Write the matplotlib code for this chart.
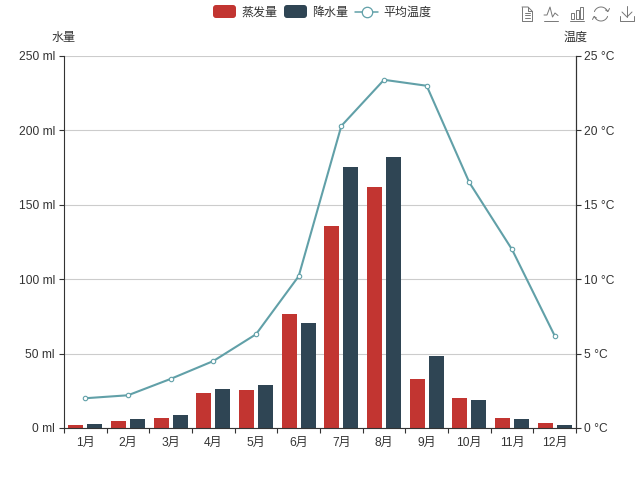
import matplotlib
matplotlib.use("Agg")
import matplotlib.pyplot as plt
import numpy as np
from matplotlib.lines import Line2D
from matplotlib.patches import FancyBboxPatch, Rectangle
from matplotlib.transforms import Affine2D

plt.rcParams['font.family'] = ['Liberation Sans', 'Noto Sans CJK SC', 'DejaVu Sans']

months = ['1月','2月','3月','4月','5月','6月','7月','8月','9月','10月','11月','12月']
evaporation = [2.0, 4.9, 7.0, 23.2, 25.6, 76.7, 135.6, 162.2, 32.6, 20.0, 6.4, 3.3]
precipitation = [2.6, 5.9, 9.0, 26.4, 28.7, 70.7, 175.6, 182.2, 48.7, 18.8, 6.0, 2.3]
temperature = [2.0, 2.2, 3.3, 4.5, 6.3, 10.2, 20.3, 23.4, 23.0, 16.5, 12.0, 6.2]
series_names = ['蒸发量', '降水量', '平均温度']
left_ticks = [0, 50, 100, 150, 200, 250]
right_ticks = [0, 5, 10, 15, 20, 25]

RED, NAVY, TEAL = '#c23531', '#2f4554', '#61a0a8'
TXT, AX = '#333333', '#333333'
W, H = 640, 484
FS = 8.64

fig = plt.figure(figsize=(W/100, H/100), dpi=100, facecolor='white')
ax = fig.add_axes([64/W, 1-428/H, 512/W, 372/H])
x = np.arange(len(months))
bw = 0.35
off = 0.225
ax.bar(x-off, evaporation, bw, color=RED, zorder=2)
ax.bar(x+off, precipitation, bw, color=NAVY, zorder=2)
ax.set_xlim(-0.5, 11.5)
ax.set_ylim(0, 250)
ax.set_yticks(left_ticks)
ax.set_yticklabels([f'{v} ml' for v in left_ticks], fontsize=FS, color=TXT)
ax.set_xticks(np.arange(-0.5, 12, 1))
ax.set_xticklabels([])
ax.set_xticks(x, minor=True)
ax.set_xticklabels(months, minor=True, fontsize=FS, color=TXT)
ax.tick_params(axis='x', which='major', length=3.6, width=0.8, color=AX, direction='out')
ax.tick_params(axis='x', which='minor', length=0, pad=6.5)
ax.tick_params(axis='y', length=3.6, width=0.8, color=AX, pad=3)
ax.grid(axis='y', color='#cccccc', lw=0.8, zorder=0)
ax.set_axisbelow(True)
ax.spines['top'].set_visible(False)
for s in ['left', 'right', 'bottom']:
    ax.spines[s].set_color(AX)
    ax.spines[s].set_linewidth(0.8)

ax2 = ax.twinx()
ax2.set_ylim(0, 25)
ax2.set_yticks(right_ticks)
ax2.set_yticklabels([f'{v} °C' for v in right_ticks], fontsize=FS, color=TXT)
ax2.tick_params(axis='y', length=3.6, width=0.8, color=AX, pad=2.5)
for s in ['top', 'left', 'bottom']:
    ax2.spines[s].set_visible(False)
ax2.spines['right'].set_color(AX)
ax2.spines['right'].set_linewidth(0.8)
ax2.plot(x, temperature, color=TEAL, lw=1.5, marker='o', ms=3.2, mfc='white', mec=TEAL, mew=0.8, zorder=5, clip_on=False)

# pixel-space helpers (origin top-left)
pix = Affine2D().scale(1, -1).translate(0, H)
def line(xs, ys, color='#777777', lw=0.7):
    fig.add_artist(Line2D(xs, ys, transform=pix, color=color, lw=lw, solid_capstyle='round', solid_joinstyle='round'))
def text(px, py, s, **kw):
    fig.text(px/W, 1-py/H, s, fontsize=FS, color=TXT, va='center', **kw)

text(64, 37.5, '水量', ha='center')
text(576, 37.5, '温度', ha='center')

# legend
for x0, c in [(213, RED), (284, NAVY)]:
    fig.add_artist(FancyBboxPatch((x0+2, 7), 19, 9, boxstyle='round,pad=2,rounding_size=3', transform=pix,
                                  fc=c, ec='none', lw=0))
text(241, 12.5, series_names[0], ha='left')
text(312, 12.5, series_names[1], ha='left')
line([355, 378], [12, 12], TEAL, 1.1)
fig.add_artist(Line2D([366.5], [12], transform=pix, marker='o', ms=7.5, mfc='white', mec=TEAL, mew=0.9, ls=''))
text(383, 12.5, series_names[2], ha='left')

# toolbox: data view
line([522, 522, 532, 532], [7, 21, 21, 11], )
line([522, 528, 532], [7, 7, 11])
line([528, 528, 532], [7, 11, 11])
for yy in (12.5, 15, 17.5):
    line([524.5, 529.5], [yy, yy])
# line chart
line([544, 558], [21, 21])
line([544, 547, 550, 552.5, 555, 558], [15, 15, 7, 17, 13, 15.5])
# bar chart
line([570, 584], [21, 21])
for x0, top in [(571, 13), (575.5, 10), (580, 7)]:
    fig.add_artist(Rectangle((x0, top), 3, 18.5-top, transform=pix, fc='none', ec='#777777', lw=0.7))
# restore (two arcs)
t = np.linspace(np.radians(200), np.radians(340), 30)
line(601+7*np.cos(t), 14+7*np.sin(t))
t = np.linspace(np.radians(20), np.radians(160), 30)
line(601+7*np.cos(t), 14+7*np.sin(t))
line([605.5, 608, 609.5], [10, 11.5, 8.5])
line([592.5, 594, 596.5], [19.5, 16.5, 18])
# save
line([627, 627], [6, 17])
line([622, 627, 632], [12, 17, 12])
line([620, 620, 634, 634], [16, 21, 21, 16])

fig.savefig('out.png', dpi=100, facecolor='white')
